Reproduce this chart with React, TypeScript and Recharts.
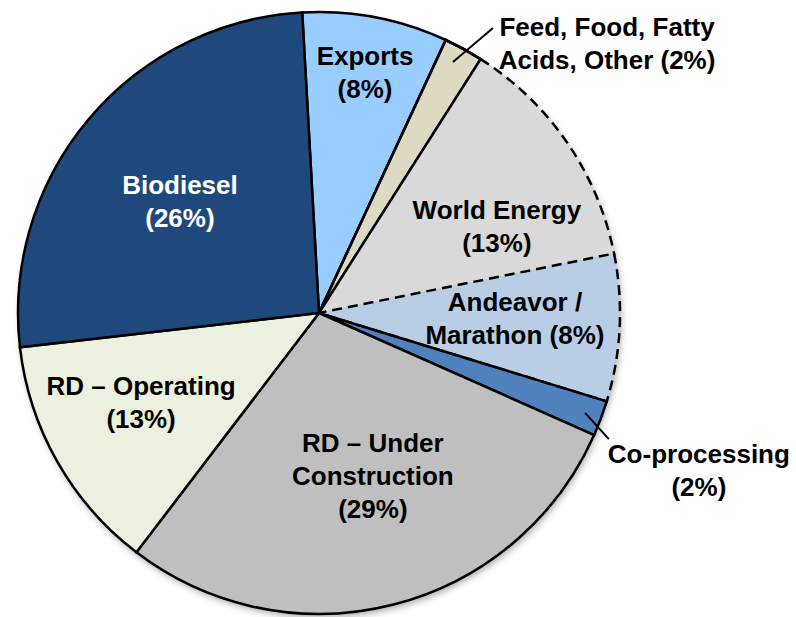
import React from 'react';
import { PieChart, Pie, Cell } from 'recharts';

const categories = ['Exports', 'Feed, Food, Fatty Acids, Other', 'World Energy', 'Andeavor / Marathon', 'Co-processing', 'RD – Under Construction', 'RD – Operating', 'Biodiesel'];
const values = [7.8, 2.1, 12.8, 7.9, 1.9, 28.7, 12.8, 25.9];
const labelLines: string[][] = [
  ['Exports', '(8%)'],
  ['Feed, Food, Fatty', 'Acids, Other (2%)'],
  ['World Energy', '(13%)'],
  ['Andeavor /', 'Marathon (8%)'],
  ['Co-processing', '(2%)'],
  ['RD – Under', 'Construction', '(29%)'],
  ['RD – Operating', '(13%)'],
  ['Biodiesel', '(26%)'],
];
const colors = ['#99CCFF', '#DDD9C3', '#D9D9D9', '#B9CDE5', '#4F81BD', '#BFBFBF', '#EBF1DE', '#1F497D'];
const dashed = [false, false, true, true, false, false, false, false];
const textColors = ['#000', '#000', '#000', '#000', '#000', '#000', '#000', '#fff'];
// label block centre offsets, in units of the outer radius
const labelOffsets = [
  [0.153, -0.8],
  [0.957, -0.897],
  [0.591, -0.289],
  [0.651, 0.017],
  [1.262, 0.522],
  [0.179, 0.542],
  [-0.591, 0.299],
  [-0.462, -0.372],
];
const leaders: Record<number, number[]> = {
  1: [0.445, -0.834, 0.578, -0.947],
  4: [0.884, 0.332, 0.963, 0.419],
};

const data = categories.map((name, i) => ({ name, value: values[i] }));

const W = 796;
const H = 617;
const CX = 319;
const CY = 313;
const R = 301;
const START = 93.2;
const LINE = 33;
const DASH = 10;
const GAP = 6;

const total = values.reduce((a, b) => a + b, 0);

// dash pattern that dashes only the outer arc of a slice (radial edges left blank)
const arcOnlyDash = (i: number) => {
  const arcLen = (R * Math.PI * 2 * values[i]) / total;
  const parts: number[] = [];
  let used = 0;
  while (used + DASH + GAP <= arcLen) {
    parts.push(DASH, GAP);
    used += DASH + GAP;
  }
  const rem = arcLen - used;
  parts.push(Math.min(DASH, rem), 2 * R + 50);
  return parts.join(' ');
};

const renderLabel = (props: any) => {
  const { cx, cy, outerRadius, index } = props;
  const [fx, fy] = labelOffsets[index];
  const x = cx + fx * outerRadius;
  const y = cy + fy * outerRadius;
  const lines = labelLines[index];
  const n = lines.length;
  const ld = leaders[index];
  return (
    <g key={`lbl-${index}`}>
      {ld && (
        <line
          x1={cx + ld[0] * outerRadius}
          y1={cy + ld[1] * outerRadius}
          x2={cx + ld[2] * outerRadius}
          y2={cy + ld[3] * outerRadius}
          stroke="#000"
          strokeWidth={2}
        />
      )}
      <text
        x={x}
        y={y}
        textAnchor="middle"
        fill={textColors[index]}
        fontFamily="'Liberation Sans', Arial, sans-serif"
        fontWeight="bold"
        fontSize={26}
      >
        {lines.map((t, k) => (
          <tspan key={k} x={x} y={y + (k - (n - 1) / 2) * LINE} dominantBaseline="central">
            {t}
          </tspan>
        ))}
      </text>
    </g>
  );
};

export default function App() {
  return (
    <div style={{ position: 'absolute', left: 0, top: 0, width: W, height: H, background: '#fff' }}>
      <PieChart width={W} height={H} margin={{ top: 0, right: 0, bottom: 0, left: 0 }}>
        <Pie
          data={[{ name: 'shadow', value: 1 }]}
          dataKey="value"
          cx={CX + 1}
          cy={CY + 4}
          outerRadius={R}
          startAngle={START}
          endAngle={START - 360}
          isAnimationActive={false}
          stroke="none"
          style={{ filter: 'blur(3px)' }}
          legendType="none"
        >
          <Cell fill="#000" fillOpacity={0.3} />
        </Pie>
        <Pie
          data={data}
          dataKey="value"
          nameKey="name"
          cx={CX}
          cy={CY}
          outerRadius={R}
          startAngle={START}
          endAngle={START - 360}
          isAnimationActive={false}
          label={false}
          labelLine={false}
        >
          {data.map((d, i) => (
            <Cell
              key={d.name}
              fill={colors[i]}
              stroke={dashed[i] ? 'none' : '#000'}
              strokeWidth={2.5}
            />
          ))}
        </Pie>
        <Pie
          data={data}
          dataKey="value"
          nameKey="name"
          cx={CX}
          cy={CY}
          outerRadius={R}
          startAngle={START}
          endAngle={START - 360}
          isAnimationActive={false}
          label={renderLabel}
          labelLine={false}
        >
          {data.map((d, i) => (
            <Cell
              key={d.name}
              fill="none"
              stroke={i === 1 || dashed[i] ? '#000' : 'none'}
              strokeWidth={2.5}
              strokeDasharray={i === 2 ? arcOnlyDash(i) : dashed[i] ? `${DASH} ${GAP}` : undefined}
            />
          ))}
        </Pie>
      </PieChart>
    </div>
  );
}
